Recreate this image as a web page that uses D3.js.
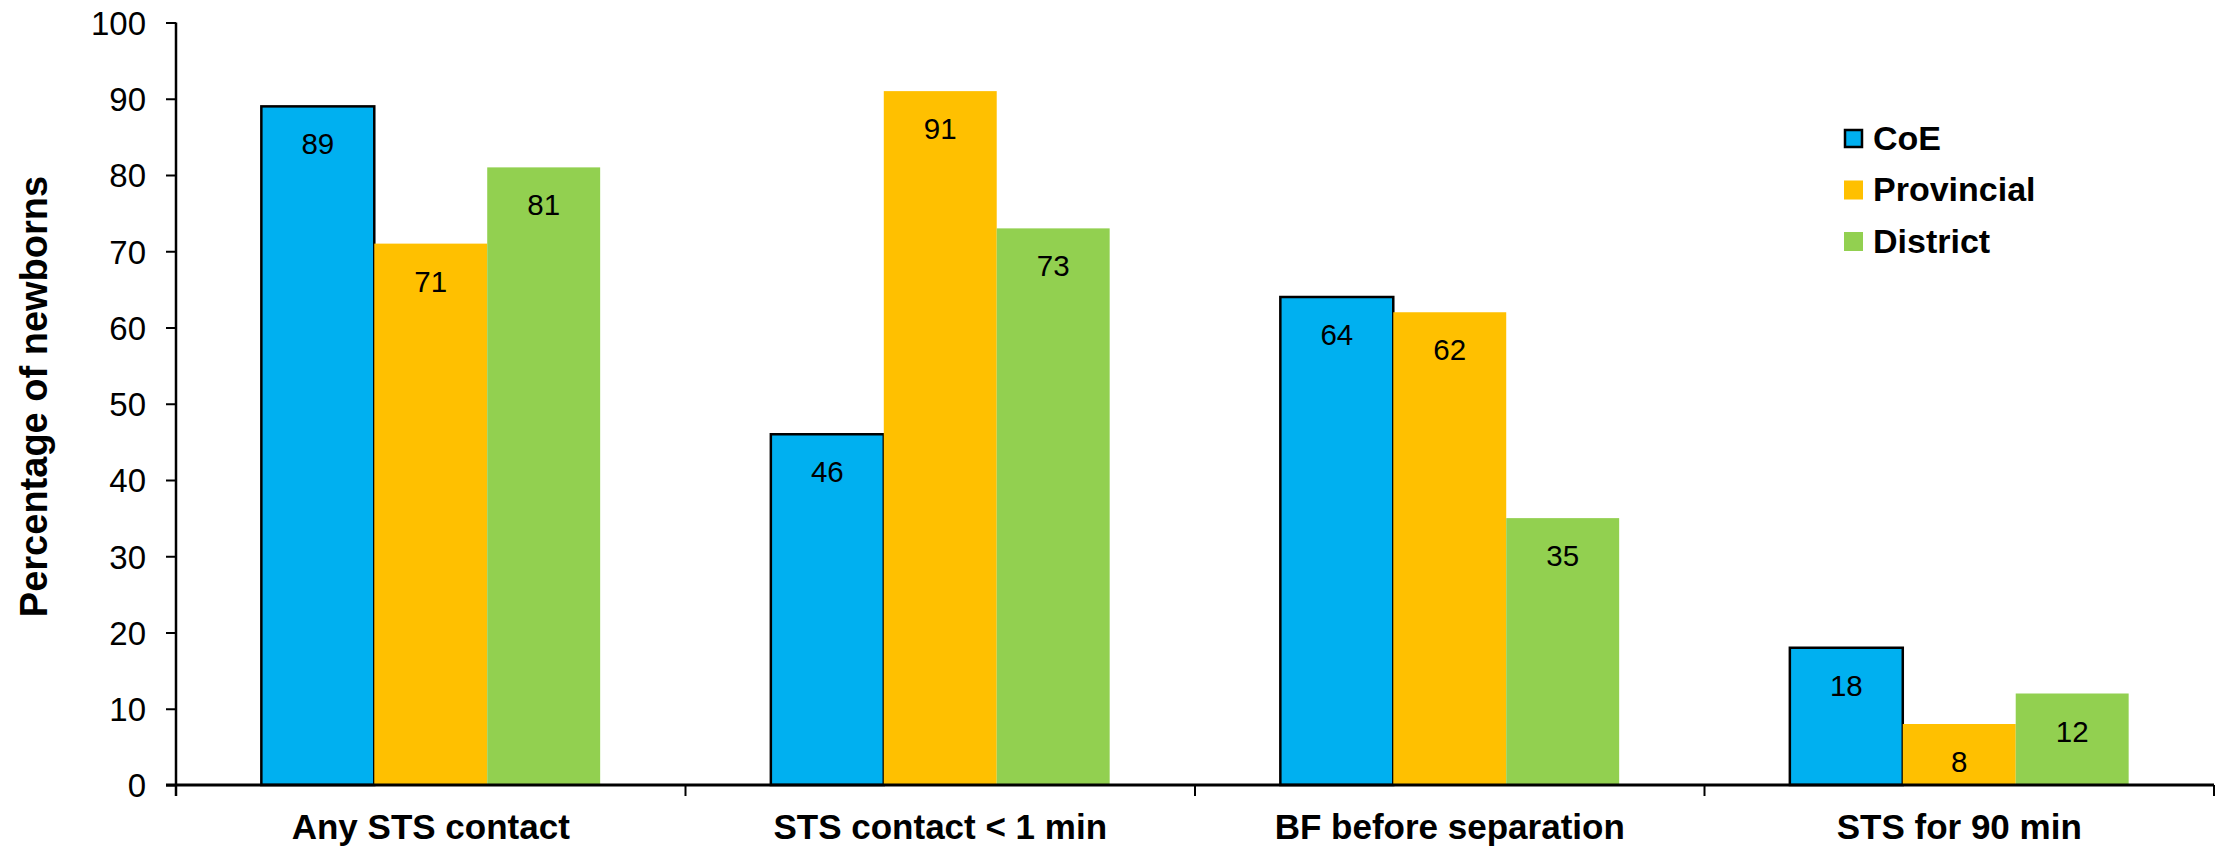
<!DOCTYPE html>
<html>
<head>
<meta charset="utf-8">
<script src="https://cdn.jsdelivr.net/npm/d3@7/dist/d3.min.js"></script>
<style>
  html, body { margin: 0; padding: 0; background: #fff; }
  svg { display: block; font-family: "Liberation Sans", Arial, sans-serif; }
</style>
</head>
<body>
<svg id="chart" width="2226" height="846"></svg>
<script>
// Indicators on the x axis
const categories = ["Any STS contact", "STS contact < 1 min", "BF before separation", "STS for 90 min"];
// Facility levels
const series = ["CoE", "Provincial", "District"];
// Percentage of newborns, per facility level
const coeValues = [89, 46, 64, 18];
const provincialValues = [71, 91, 62, 8];
const districtValues = [81, 73, 35, 12];
// Y-axis ticks
const yTicks = [0, 10, 20, 30, 40, 50, 60, 70, 80, 90, 100];

const colors = { "CoE": "#00B0F0", "Provincial": "#FFC000", "District": "#92D050" };
const valuesBySeries = { "CoE": coeValues, "Provincial": provincialValues, "District": districtValues };

const svg = d3.select("#chart");

const plot = { left: 176, right: 2214, top: 22.5, bottom: 785 };

const x0 = d3.scaleBand().domain(categories).range([plot.left, plot.right]).paddingInner(0).paddingOuter(0);
const groupFrac = 0.665;
const x1 = d3.scaleBand().domain(series)
  .range([x0.bandwidth() * (1 - groupFrac) / 2, x0.bandwidth() * (1 + groupFrac) / 2])
  .padding(0);
const y = d3.scaleLinear().domain([0, 100]).range([plot.bottom, plot.top]);

// Bars
const rows = categories.map((c, i) => ({ cat: c, items: series.map(s => ({ s, v: valuesBySeries[s][i] })) }));
const groups = svg.append("g").selectAll("g").data(rows).join("g")
  .attr("transform", d => `translate(${x0(d.cat)},0)`);

groups.selectAll("rect").data(d => d.items).join("rect")
  .attr("x", d => x1(d.s))
  .attr("y", d => y(d.v))
  .attr("width", x1.bandwidth())
  .attr("height", d => y(0) - y(d.v))
  .attr("fill", d => colors[d.s])
  .attr("stroke", d => d.s === "CoE" ? "#000" : "none")
  .attr("stroke-width", 2.5);

// Value labels inside bars
groups.selectAll("text").data(d => d.items).join("text")
  .attr("x", d => x1(d.s) + x1.bandwidth() / 2)
  .attr("y", d => y(d.v) + 48)
  .attr("text-anchor", "middle")
  .attr("font-size", 29.5)
  .attr("fill", "#000")
  .text(d => d.v);

// Y axis
const yAxis = d3.axisLeft(y).tickValues(yTicks).tickSize(10).tickPadding(20).tickSizeOuter(0);
const gy = svg.append("g").attr("transform", `translate(${plot.left},0)`).call(yAxis);
gy.select(".domain").remove();
gy.selectAll(".tick line").attr("stroke", "#000").attr("stroke-width", 2);
gy.selectAll(".tick text").attr("font-size", 33).attr("fill", "#000")
  .attr("font-family", "'Liberation Sans', Arial, sans-serif").attr("dy", "0.36em");
svg.append("line")
  .attr("x1", plot.left).attr("x2", plot.left)
  .attr("y1", plot.top).attr("y2", plot.bottom + 11)
  .attr("stroke", "#000").attr("stroke-width", 2.5);

// X axis
svg.append("line")
  .attr("x1", plot.left - 10).attr("x2", plot.right)
  .attr("y1", plot.bottom).attr("y2", plot.bottom)
  .attr("stroke", "#000").attr("stroke-width", 3);
const boundaries = categories.map(c => x0(c)).concat([x0(categories[categories.length - 1]) + x0.bandwidth()]);
svg.append("g").selectAll("line").data(boundaries.slice(1)).join("line")
  .attr("x1", d => d).attr("x2", d => d)
  .attr("y1", plot.bottom).attr("y2", plot.bottom + 11)
  .attr("stroke", "#000").attr("stroke-width", 2);
svg.append("g").selectAll("text").data(categories).join("text")
  .attr("x", d => x0(d) + x0.bandwidth() / 2)
  .attr("y", 839)
  .attr("text-anchor", "middle")
  .attr("font-size", 35)
  .attr("font-weight", "bold")
  .attr("fill", "#000")
  .text(d => d);

// Y axis title
svg.append("text")
  .attr("transform", "translate(47,396.5) rotate(-90)")
  .attr("text-anchor", "middle")
  .attr("font-size", 38)
  .attr("font-weight", "bold")
  .attr("fill", "#000")
  .text("Percentage of newborns");

// Legend
const legend = svg.append("g").attr("transform", "translate(1844,129)");
const li = legend.selectAll("g").data(series).join("g")
  .attr("transform", (d, i) => `translate(0,${i * 51.5})`);
li.append("rect")
  .attr("x", d => d === "CoE" ? 1 : 0).attr("y", d => d === "CoE" ? 1 : 0)
  .attr("width", d => d === "CoE" ? 17 : 19).attr("height", d => d === "CoE" ? 17 : 19)
  .attr("fill", d => colors[d])
  .attr("stroke", d => d === "CoE" ? "#000" : "none")
  .attr("stroke-width", 2.5);
li.append("text")
  .attr("x", 29).attr("y", 20.5)
  .attr("font-size", 34)
  .attr("font-weight", "bold")
  .attr("fill", "#000")
  .text(d => d);
</script>
</body>
</html>
